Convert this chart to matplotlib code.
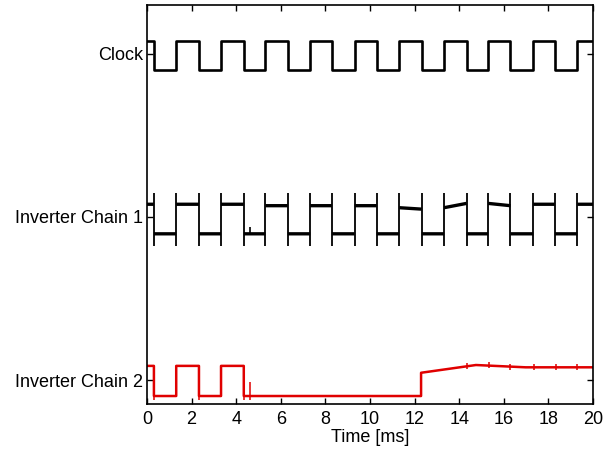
import numpy as np
import matplotlib
matplotlib.use("Agg")
import matplotlib.pyplot as plt

plt.rcParams['font.family'] = ['Liberation Sans', 'DejaVu Sans']

# ---- data ----
labels = ["Inverter Chain 2", "Inverter Chain 1", "Clock"]
x_ticks = list(range(0, 21, 2))

# edge times (ms), shared by clock and chain 1
edges = [0.31, 1.31, 2.33, 3.32, 4.34, 5.31, 6.31, 7.32, 8.29, 9.31, 10.30,
         11.31, 12.32, 13.32, 14.33, 15.30, 16.30, 17.32, 18.29, 19.30]

# clock levels per segment (normalized, 1 = high)
clock_levels = [1 if i % 2 == 0 else 0 for i in range(len(edges) + 1)]

# chain 1 segment start / end levels
chain1_start = [1.0, -0.03, 1.0, -0.03, 1.0, -0.03, 0.95, -0.03, 0.95, -0.03, 0.95,
                -0.03, 0.88, -0.03, 0.88, -0.03, 1.03, -0.03, 1.0, -0.03, 1.0]
chain1_end = [1.0, -0.03, 1.0, -0.03, 1.0, -0.03, 0.95, -0.03, 0.95, -0.03, 0.95,
              -0.03, 0.83, -0.03, 1.03, -0.03, 0.95, -0.03, 1.0, -0.03, 1.0]
chain1_spike_top = 1.39
chain1_spike_bot = -0.45

# chain 2 polyline (time ms, level)
chain2_t = [0, 0.31, 0.31, 1.31, 1.31, 2.33, 2.33, 3.32, 3.32, 4.34, 4.34,
            12.29, 12.29, 14.75, 16.98, 20]
chain2_v = [1.05, 1.05, 0.0, 0.0, 1.05, 1.05, 0.0, 0.0, 1.05, 1.05, 0.0,
            0.0, 0.81, 1.08, 1.0, 1.0]
# chain 2 glitches (time, low, high)
chain2_glitch_t = [0.31, 2.33, 4.34, 4.64, 7.33, 9.33, 14.36, 15.33, 16.30, 17.35, 18.33, 19.30]
chain2_glitch_lo = [-0.15, -0.15, -0.15, -0.15, -0.05, -0.05, 0.95, 0.97, 0.92, 0.9, 0.9, 0.9]
chain2_glitch_hi = [1.05, 1.05, 1.05, 0.49, 0.05, 0.05, 1.15, 1.17, 1.1, 1.1, 1.1, 1.1]

# ---- build traces ----
def to_y(v, base):
    return base - 0.098 + np.asarray(v, dtype=float) * 0.176

def square(levels, edges):
    t = [0.0]; v = [levels[0]]
    for i, e in enumerate(edges):
        t += [e, e]; v += [levels[i], levels[i + 1]]
    t.append(20.0); v.append(levels[-1])
    return np.array(t), np.array(v, dtype=float)

ct, cv = square(clock_levels, edges)

# chain 1 levels as separate segments (edges are drawn as spikes)
bounds = [0.0] + edges + [20.0]
t1 = []; v1 = []
for i in range(len(bounds) - 1):
    t1 += [bounds[i], bounds[i + 1], np.nan]
    v1 += [chain1_start[i], chain1_end[i], np.nan]
t1 = np.array(t1, dtype=float); v1 = np.array(v1, dtype=float)

# ---- plot ----
fig = plt.figure(figsize=(6.03, 4.49), dpi=100)
ax = fig.add_axes([147 / 603, 1 - 404 / 449, 446 / 603, 399 / 449])

ax.plot(ct, to_y(cv, 2), color='black', lw=1.9)
ax.plot(t1, to_y(v1, 1), color='black', lw=2.4, solid_capstyle='butt')
ax.vlines(edges, to_y(chain1_spike_bot, 1), to_y(chain1_spike_top, 1),
          color='black', lw=1.3)
ax.vlines([4.64], to_y(-0.03, 1), to_y(0.2, 1), color='black', lw=1.2)
ax.plot(chain2_t, to_y(chain2_v, 0), color='#e00000', lw=1.8)
ax.vlines(chain2_glitch_t, to_y(chain2_glitch_lo, 0), to_y(chain2_glitch_hi, 0),
          color='#e00000', lw=1.1)

ax.set_xlim(0, 20)
ax.set_ylim(-0.147, 2.30)
ax.set_xticks(x_ticks)
ax.set_yticks([0, 1, 2])
ax.set_yticklabels(labels)
ax.tick_params(direction='in', length=4.5, width=1, labelsize=13,
               top=True, right=True, pad=3)
ax.tick_params(axis='x', pad=5)
for s in ax.spines.values():
    s.set_linewidth(1.2)
ax.set_xlabel("Time [ms]", fontsize=13, labelpad=1)

fig.savefig("out.png", dpi=100)
